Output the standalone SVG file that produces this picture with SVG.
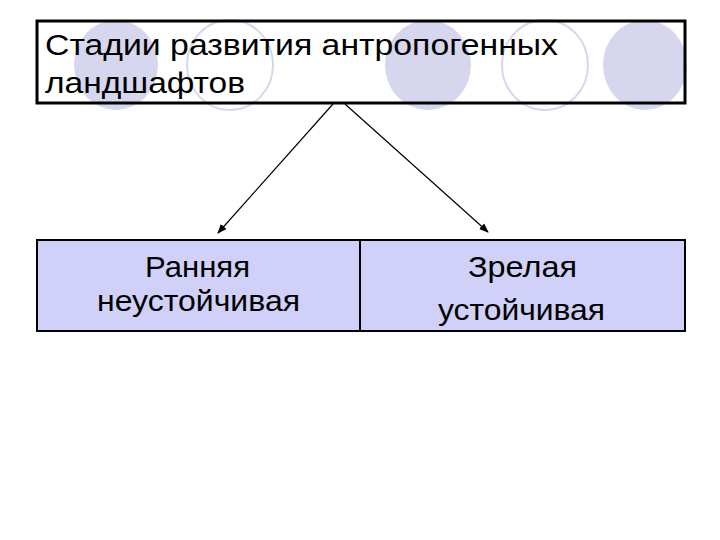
<svg xmlns="http://www.w3.org/2000/svg" width="720" height="540" viewBox="0 0 720 540">
<style>
.f{fill:#d6d6ee}.o{fill:none;stroke:#d6d6ee;stroke-width:2}
text{font-family:"Liberation Sans",Arial,sans-serif;fill:#000}
.box{fill:#d0d0f8;stroke:#000;stroke-width:2}
</style>
<defs><marker id="a" viewBox="0 0 10 10" refX="9" refY="5" markerWidth="8" markerHeight="8" orient="auto"><path d="M0,1 L10,5 L0,9 z" fill="#000"/></marker></defs>
<rect width="720" height="540" fill="#fff"/>
<g id="bg">
<ellipse class="f" cx="116" cy="65" rx="42" ry="45"/>
<ellipse class="o" cx="230" cy="65" rx="43" ry="45"/>
<ellipse class="f" cx="428" cy="65" rx="43" ry="45"/>
<ellipse class="o" cx="545" cy="65" rx="43" ry="45"/>
<ellipse class="f" cx="645" cy="65" rx="42" ry="45"/>
</g>
<g id="title">
<rect x="37" y="21" width="648" height="82" fill="none" stroke="#000" stroke-width="3"/>
<text x="45" y="55" font-size="30" textLength="513" lengthAdjust="spacingAndGlyphs">Стадии развития антропогенных</text>
<text x="45" y="93" font-size="30" textLength="200" lengthAdjust="spacingAndGlyphs">ландшафтов</text>
</g>
<g id="connectors" stroke="#000" stroke-width="1.2">
<line x1="333" y1="104" x2="218" y2="233" marker-end="url(#a)"/>
<line x1="345" y1="104" x2="488" y2="232" marker-end="url(#a)"/>
</g>
<g id="early">
<rect class="box" x="37" y="240" width="323" height="91"/>
<text x="145" y="277" font-size="30" textLength="105" lengthAdjust="spacingAndGlyphs">Ранняя</text>
<text x="97" y="311" font-size="30" textLength="203" lengthAdjust="spacingAndGlyphs">неустойчивая</text>
</g>
<g id="mature">
<rect class="box" x="360" y="240" width="325" height="91"/>
<text x="468" y="277" font-size="30" textLength="109" lengthAdjust="spacingAndGlyphs">Зрелая</text>
<text x="438" y="320" font-size="30" textLength="167" lengthAdjust="spacingAndGlyphs">устойчивая</text>
</g>
</svg>
